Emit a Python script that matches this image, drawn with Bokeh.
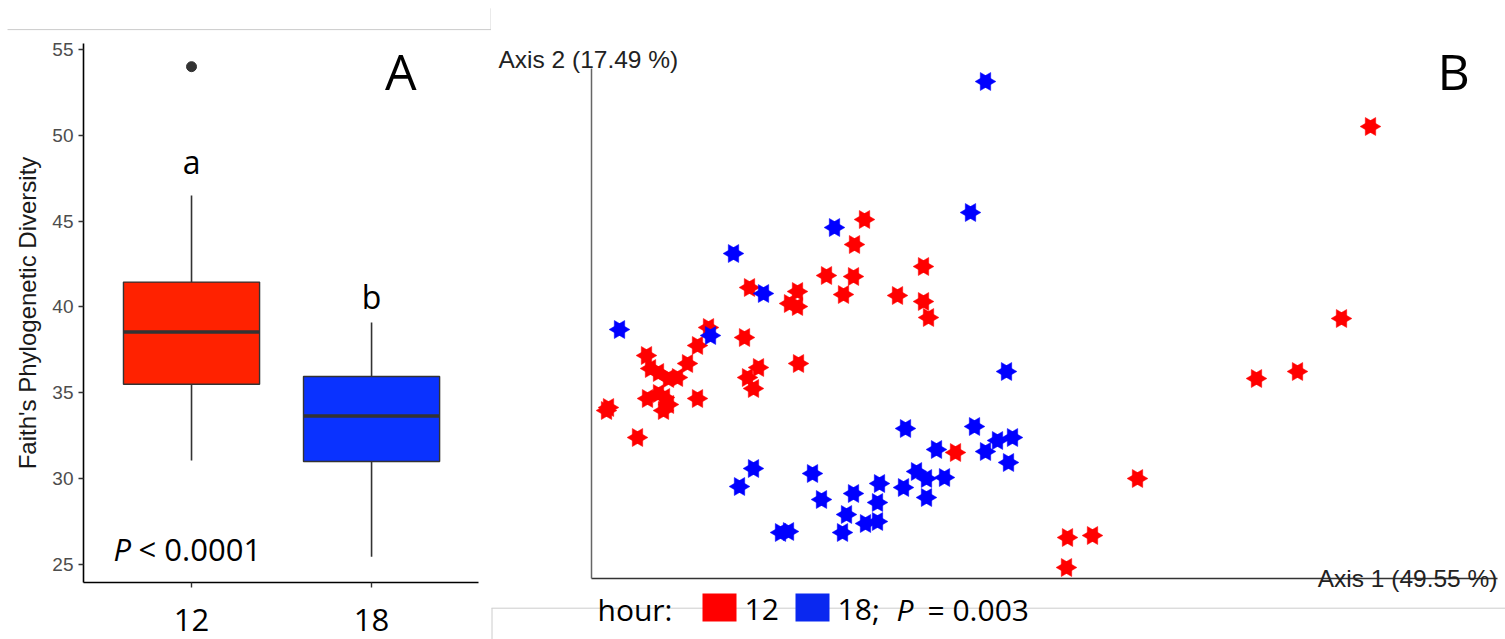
import math
from bokeh.plotting import figure
from bokeh.layouts import row
from bokeh.models import Range1d, FixedTicker, Label
from bokeh.embed import file_html
from bokeh.resources import INLINE
from bokeh.core.properties import value

# ---------------- Panel A data (Faith's PD boxplot) ----------------
hours = ["12", "18"]
q1 = [35.5, 31.0]
median = [38.55, 33.65]
q3 = [41.45, 35.95]
whisker_low = [31.05, 25.45]
whisker_high = [46.5, 39.1]
outlier_hour = ["12"]
outlier_value = [54.0]
letters = ["a", "b"]
letter_y = [48.46, 40.6]
box_colors = ["#ff2200", "#0a32ff"]
y_ticks = [25, 30, 35, 40, 45, 50, 55]

# ---------------- Panel B data (PCoA) ----------------
red_ax1 = [0.158, 0.206, 0.198, 0.206, 0.235, 0.273, 0.263, 0.262, 0.252, 0.332,
           0.306, 0.332, 0.337, 0.117, 0.153, 0.106, 0.055, 0.096, 0.059, 0.067,
           0.077, 0.086, 0.167, 0.156, 0.162, 0.207, 0.056, 0.067, 0.073, 0.077,
           0.072, 0.106, 0.017, 0.015, 0.046, 0.364, 0.779, 0.750, 0.706, 0.665,
           0.546, 0.476, 0.501, 0.475]
red_ax2 = [0.291, 0.287, 0.275, 0.272, 0.303, 0.359, 0.334, 0.302, 0.284, 0.312,
           0.283, 0.277, 0.261, 0.251, 0.241, 0.233, 0.223, 0.215, 0.210, 0.206,
           0.200, 0.201, 0.211, 0.201, 0.190, 0.215, 0.180, 0.185, 0.181, 0.174,
           0.168, 0.180, 0.171, 0.168, 0.141, 0.126, 0.452, 0.260, 0.207, 0.200,
           0.100, 0.041, 0.043, 0.011]
blue_ax1 = [0.394, 0.379, 0.243, 0.142, 0.172, 0.028, 0.119, 0.415, 0.314, 0.383,
            0.345, 0.394, 0.406, 0.421, 0.417, 0.162, 0.148, 0.221, 0.230, 0.262,
            0.288, 0.286, 0.312, 0.325, 0.335, 0.353, 0.335, 0.255, 0.251, 0.274,
            0.286, 0.189, 0.197]
blue_ax2 = [0.497, 0.366, 0.351, 0.325, 0.285, 0.249, 0.243, 0.207, 0.150, 0.152,
            0.129, 0.127, 0.138, 0.141, 0.116, 0.110, 0.092, 0.105, 0.079, 0.085,
            0.095, 0.076, 0.091, 0.107, 0.100, 0.101, 0.081, 0.064, 0.046, 0.055,
            0.057, 0.046, 0.047]
axis1_label = "Axis 1 (49.55 %)"
axis2_label = "Axis 2 (17.49 %)"
axis1_end = 0.906
axis2_end = 0.510
group_colors = ["#ff0000", "#0000ff"]
legend_colors = ["#ff0000", "#0a28f0"]
legend_title = "hour:"
legend_stat = [";", "P", "= 0.003"]

CAL = "Open Sans"
ARIAL = "Liberation Sans"
FRAME_GRAY = "#cccccc"

# ================= Panel A =================
pos = [i + 1 for i in range(len(hours))]
box_w = 0.756
pA = figure(width=491, height=639, x_range=Range1d(0.4, 2.594), y_range=Range1d(23.95, 55.35),
            output_backend="svg", toolbar_location=None,
            min_border_left=83, min_border_right=13, min_border_top=43, min_border_bottom=57)
pA.outline_line_color = None
pA.grid.visible = False
pA.background_fill_color = "white"

pA.segment(x0=pos, y0=q3, x1=pos, y1=whisker_high, line_color="#333333", line_width=1.6)
pA.segment(x0=pos, y0=q1, x1=pos, y1=whisker_low, line_color="#333333", line_width=1.6)
pA.vbar(x=pos, width=box_w, top=q3, bottom=q1, fill_color=box_colors,
        line_color="#333333", line_width=1.4)
pA.segment(x0=[p - box_w / 2 for p in pos], y0=median, x1=[p + box_w / 2 for p in pos], y1=median,
           line_color="#333333", line_width=3.5)
out_x = [pos[hours.index(h)] for h in outlier_hour]
pA.scatter(x=out_x, y=outlier_value, size=10, color="#333333")
pA.text(x=pos, y=letter_y, text=letters, text_font=value(CAL), text_font_size="32px",
        text_align="center", text_baseline="middle", text_color="black")

# faint page frame lines (screenshot borders) at the top of panel A
pA.segment(x0=[-0.022, 2.664], y0=[56.16, 56.16], x1=[2.664, 2.664], y1=[56.16, 57.4],
           line_color=FRAME_GRAY, line_width=1, level="annotation")

pA.yaxis.ticker = FixedTicker(ticks=y_ticks)
pA.yaxis.axis_label = "Faith's Phylogenetic Diversity"
pA.yaxis.axis_label_text_font = ARIAL
pA.yaxis.axis_label_text_font_size = "24px"
pA.yaxis.axis_label_text_font_style = "normal"
pA.yaxis.axis_label_text_color = "#1a1a1a"
pA.yaxis.axis_label_standoff = 8
pA.yaxis.major_label_text_font = ARIAL
pA.yaxis.major_label_text_font_size = "19px"
pA.yaxis.major_label_text_color = "#4d4d4d"
pA.yaxis.major_label_standoff = 5

pA.xaxis.ticker = FixedTicker(ticks=pos)
pA.xaxis.major_label_overrides = {p: h for p, h in zip(pos, hours)}
pA.xaxis.major_label_text_font = CAL
pA.xaxis.major_label_text_font_size = "31px"
pA.xaxis.major_label_text_color = "black"
pA.xaxis.major_label_standoff = 21

for ax in (pA.xaxis, pA.yaxis):
    ax.axis_line_color = "black"
    ax.axis_line_width = 1.6
    ax.major_tick_line_color = "#333333"
    ax.major_tick_line_width = 1.4
    ax.major_tick_out = 5
    ax.major_tick_in = 0
    ax.minor_tick_out = 0
    ax.minor_tick_in = 0

pA.add_layout(Label(x=0.567, y=25.9, text="P", text_font=CAL, text_font_size="31px", text_color="black",
                    text_font_style="italic", text_baseline="middle", text_align="left"))
pA.add_layout(Label(x=0.706, y=25.9, text="< 0.0001", text_font=CAL, text_font_size="31px",
                    text_color="black", text_baseline="middle", text_align="left"))
pA.add_layout(Label(x=2.075, y=53.74, text="A", text_font=CAL, text_font_size="50px", text_color="black",
                    text_baseline="middle", text_align="left"))

# ================= Panel B =================
pB = figure(width=1014, height=639, x_range=Range1d(-0.100, 0.914), y_range=Range1d(-0.004, 0.535),
            output_backend="svg", toolbar_location=None, x_axis_location=None, y_axis_location=None,
            min_border_left=0, min_border_right=0, min_border_top=43, min_border_bottom=57)
pB.outline_line_color = None
pB.grid.visible = False
pB.background_fill_color = "white"

# faint page frame line (screenshot border) crossing the legend
pB.segment(x0=[-0.100, -0.0995], y0=[-0.0297, -0.0297], x1=[0.914, -0.0995], y1=[-0.0297, -0.062],
           line_color=FRAME_GRAY, line_width=1, level="annotation")

# axes lines
pB.segment(x0=[0, 0], y0=[0, 0], x1=[axis1_end, 0], y1=[0, axis2_end],
           line_color=["#333333", "#666666"], line_width=1.5, level="annotation")

star = 18
ang = math.pi / 2
for xs, ys, c in ((red_ax1, red_ax2, group_colors[0]), (blue_ax1, blue_ax2, group_colors[1])):
    pB.scatter(x=xs, y=ys, marker="triangle", size=star, angle=ang, fill_color=c, line_color=c, line_width=0.5)
    pB.scatter(x=xs, y=ys, marker="inverted_triangle", size=star, angle=ang, fill_color=c, line_color=c, line_width=0.5)

pB.add_layout(Label(x=-0.093, y=0.519, text=axis2_label, text_font=ARIAL, text_font_size="24.5px",
                    text_color="#222222", text_baseline="middle", text_align="left"))
pB.text(x=[axis1_end], y=[0.0], text=[axis1_label], text_font=value(ARIAL), text_font_size="24.5px",
        text_color="#222222", text_baseline="middle", text_align="right", level="annotation")
pB.add_layout(Label(x=0.846, y=0.5075, text="B", text_font=CAL, text_font_size="50px", text_color="black",
                    text_baseline="middle", text_align="left"))

# legend, drawn below the plot frame
leg_y = -0.029            # centre of the colour squares
sq_w, sq_h = 0.034, 0.028
sq_left = [0.111, 0.204]  # left edges of the squares
txt_y = -0.031
pB.quad(left=sq_left, right=[s + sq_w for s in sq_left],
        top=[leg_y + sq_h / 2] * 2, bottom=[leg_y - sq_h / 2] * 2,
        fill_color=legend_colors, line_color=None, level="annotation")
pB.text(x=[s + sq_w + 0.008 for s in sq_left], y=[txt_y] * 2, text=hours,
        text_font=value(CAL), text_font_size="30px", text_color="black",
        text_baseline="middle", text_align="left", level="annotation")
pB.text(x=[0.006], y=[txt_y], text=[legend_title], text_font=value(CAL), text_font_size="30px",
        text_color="black", text_baseline="middle", text_align="left", level="annotation")
pB.text(x=[0.2805, 0.305, 0.336], y=[txt_y] * 3, text=legend_stat, text_font=value(CAL),
        text_font_size="30px", text_color="black", text_font_style=["normal", "italic", "normal"],
        text_baseline="middle", text_align="left", level="annotation")

layout = row(pA, pB, spacing=0)
open("out.html", "w").write(file_html(layout, INLINE))
